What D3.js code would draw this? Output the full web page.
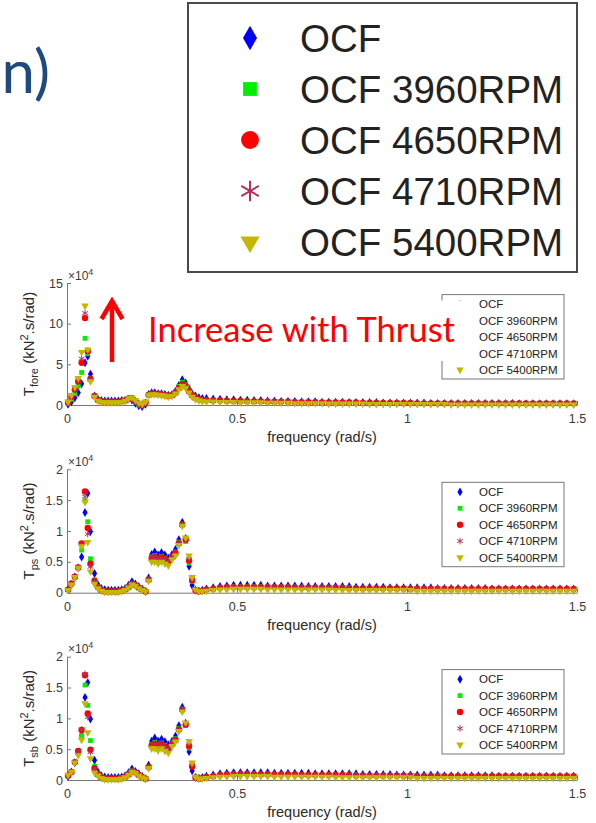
<!DOCTYPE html>
<html>
<head>
<meta charset="utf-8">
<script src="https://cdn.jsdelivr.net/npm/d3@7"></script>
<style>
  body { margin: 0; background: #fff; }
  svg { display: block; font-family: "Liberation Sans", Arial, sans-serif; }
</style>
</head>
<body>
<svg id="chart" width="596" height="823"></svg>
<script>
// series + ticks
var seriesNames = ["OCF", "OCF 3960RPM", "OCF 4650RPM", "OCF 4710RPM", "OCF 5400RPM"];
var xTicks = [0, 0.5, 1, 1.5];
var foreTicks = [0, 5, 10, 15];
var sideTicks = [0, 0.5, 1, 1.5, 2];

// frequency (rad/s)
var freq = [
  0.003, 0.013, 0.023, 0.033, 0.043, 0.053, 0.061, 0.069, 0.081, 0.091,
  0.101, 0.111, 0.121, 0.131, 0.141, 0.151, 0.161, 0.171, 0.181, 0.191,
  0.201, 0.211, 0.221, 0.231, 0.240, 0.249, 0.258, 0.268, 0.278, 0.288,
  0.298, 0.309, 0.319, 0.329, 0.339, 0.349, 0.359, 0.368, 0.378, 0.388, 0.398,
  0.41, 0.43, 0.45, 0.47, 0.49, 0.51, 0.53, 0.55, 0.57, 0.59, 0.61,
  0.63, 0.65, 0.67, 0.69, 0.71, 0.73, 0.75, 0.77, 0.79, 0.81, 0.83,
  0.85, 0.87, 0.89, 0.91, 0.93, 0.95, 0.97, 0.99, 1.01, 1.03, 1.05,
  1.07, 1.09, 1.11, 1.13, 1.15, 1.17, 1.19, 1.21, 1.23, 1.25, 1.27,
  1.29, 1.31, 1.33, 1.35, 1.37, 1.39, 1.41, 1.43, 1.45, 1.47, 1.49
];

// T_fore, x10^4
var foreOCF = [
  0.1, 0.4, 0.9, 1.5, 2.6, 5.2, 6.0, 3.8, 1.1, 0.7,
  0.55, 0.5, 0.5, 0.5, 0.5, 0.5, 0.55, 0.6, 0.75, 0.6,
  0.2, -0.1, -0.2, 0.1, 1.3, 1.5, 1.5, 1.4, 1.4, 1.3,
  1.2, 1.3, 1.7, 2.4, 3.1, 2.7, 2.0, 1.4, 1.1, 0.9, 0.8,
  0.8, 0.75, 0.7, 0.65, 0.65, 0.6, 0.6, 0.55, 0.55, 0.5, 0.5,
  0.45, 0.45, 0.45, 0.4, 0.4, 0.4, 0.35, 0.35, 0.35, 0.35, 0.3,
  0.3, 0.3, 0.3, 0.3, 0.25, 0.25, 0.25, 0.25, 0.25, 0.25, 0.25,
  0.2, 0.2, 0.2, 0.2, 0.2, 0.2, 0.2, 0.2, 0.2, 0.2, 0.2,
  0.2, 0.2, 0.15, 0.15, 0.15, 0.15, 0.15, 0.15, 0.15, 0.15, 0.15
];
var fore3960 = [
  0.2, 0.7, 1.4, 2.3, 4.0, 8.2, 6.3, 3.3, 1.1, 0.65,
  0.5, 0.45, 0.45, 0.45, 0.45, 0.45, 0.5, 0.6, 0.8, 0.75,
  0.35, 0.0, -0.1, 0.2, 1.3, 1.45, 1.45, 1.4, 1.35, 1.25,
  1.15, 1.25, 1.6, 2.3, 2.8, 2.5, 1.85, 1.3, 1.0, 0.8, 0.7,
  0.65, 0.6, 0.6, 0.55, 0.55, 0.5, 0.5, 0.5, 0.45, 0.45, 0.45,
  0.4, 0.4, 0.4, 0.35, 0.35, 0.35, 0.3, 0.3, 0.3, 0.3, 0.3,
  0.25, 0.25, 0.25, 0.25, 0.25, 0.25, 0.2, 0.2, 0.2, 0.2, 0.2,
  0.2, 0.2, 0.2, 0.2, 0.2, 0.15, 0.15, 0.15, 0.15, 0.15, 0.15,
  0.15, 0.15, 0.15, 0.15, 0.15, 0.15, 0.15, 0.15, 0.15, 0.15, 0.15
];
var fore4650 = [
  0.3, 1.0, 1.9, 2.9, 5.2, 10.7, 6.6, 3.2, 1.1, 0.6,
  0.45, 0.4, 0.4, 0.4, 0.4, 0.4, 0.45, 0.55, 0.8, 0.85,
  0.5, 0.15, 0.0, 0.3, 1.25, 1.4, 1.4, 1.35, 1.3, 1.2,
  1.1, 1.2, 1.5, 2.1, 2.6, 2.3, 1.7, 1.2, 0.9, 0.7, 0.6,
  0.6, 0.55, 0.55, 0.5, 0.5, 0.5, 0.45, 0.45, 0.45, 0.4, 0.4,
  0.4, 0.4, 0.35, 0.35, 0.35, 0.35, 0.3, 0.3, 0.3, 0.3, 0.3,
  0.3, 0.25, 0.25, 0.25, 0.25, 0.25, 0.25, 0.25, 0.25, 0.2, 0.2,
  0.2, 0.2, 0.2, 0.2, 0.2, 0.2, 0.2, 0.2, 0.2, 0.2, 0.2,
  0.2, 0.2, 0.2, 0.2, 0.2, 0.2, 0.2, 0.2, 0.2, 0.2, 0.2
];
var fore4710 = [
  0.3, 1.1, 2.0, 3.0, 5.7, 11.3, 6.7, 3.1, 1.05, 0.55,
  0.4, 0.35, 0.35, 0.35, 0.35, 0.35, 0.4, 0.5, 0.8, 0.85,
  0.55, 0.2, 0.05, 0.35, 1.2, 1.35, 1.35, 1.3, 1.25, 1.15,
  1.05, 1.15, 1.45, 2.0, 2.5, 2.2, 1.6, 1.1, 0.8, 0.65, 0.55,
  0.55, 0.5, 0.5, 0.5, 0.45, 0.45, 0.45, 0.4, 0.4, 0.4, 0.4,
  0.35, 0.35, 0.35, 0.35, 0.3, 0.3, 0.3, 0.3, 0.3, 0.3, 0.3,
  0.25, 0.25, 0.25, 0.25, 0.25, 0.25, 0.25, 0.25, 0.25, 0.25, 0.25,
  0.2, 0.2, 0.2, 0.2, 0.2, 0.2, 0.2, 0.2, 0.2, 0.2, 0.2,
  0.2, 0.2, 0.2, 0.2, 0.2, 0.2, 0.2, 0.2, 0.2, 0.2, 0.2
];
var fore5400 = [
  0.4, 1.2, 2.2, 3.3, 6.5, 12.2, 6.8, 2.9, 1.0, 0.5,
  0.35, 0.3, 0.3, 0.3, 0.3, 0.3, 0.35, 0.5, 0.8, 0.9,
  0.6, 0.25, 0.1, 0.4, 1.2, 1.3, 1.3, 1.25, 1.2, 1.1,
  1.0, 1.1, 1.4, 1.9, 2.3, 2.1, 1.5, 1.0, 0.7, 0.55, 0.45,
  0.4, 0.4, 0.35, 0.35, 0.35, 0.3, 0.3, 0.3, 0.3, 0.25, 0.25,
  0.25, 0.25, 0.2, 0.2, 0.2, 0.2, 0.2, 0.15, 0.15, 0.15, 0.15,
  0.15, 0.15, 0.1, 0.1, 0.1, 0.1, 0.1, 0.1, 0.1, 0.1, 0.1,
  0.1, 0.1, 0.1, 0.05, 0.05, 0.05, 0.05, 0.05, 0.05, 0.05, 0.05,
  0.05, 0.05, 0.05, 0.05, 0.05, 0.05, 0.05, 0.05, 0.05, 0.05, 0.05
];

// T_ps, x10^4
var psOCF = [
  0.05, 0.13, 0.25, 0.40, 0.58, 1.30, 1.61, 0.99, 0.31, 0.13,
  0.07, 0.05, 0.04, 0.04, 0.04, 0.04, 0.05, 0.07, 0.12, 0.18,
  0.14, 0.10, 0.06, 0.02, 0.24, 0.62, 0.66, 0.61, 0.65, 0.61,
  0.56, 0.62, 0.70, 0.86, 1.14, 0.88, 0.43, 0.12, 0.04, 0.03, 0.04,
  0.06, 0.08, 0.10, 0.11, 0.12, 0.12, 0.12, 0.12, 0.12, 0.11, 0.11,
  0.11, 0.11, 0.11, 0.11, 0.10, 0.10, 0.10, 0.10, 0.10, 0.10, 0.10,
  0.09, 0.09, 0.09, 0.09, 0.09, 0.08, 0.08, 0.08, 0.08, 0.08, 0.08,
  0.08, 0.07, 0.07, 0.07, 0.07, 0.07, 0.07, 0.07, 0.07, 0.06, 0.06,
  0.06, 0.06, 0.06, 0.06, 0.06, 0.06, 0.06, 0.06, 0.06, 0.06, 0.06
];
var ps3960 = [
  0.05, 0.14, 0.26, 0.41, 0.69, 1.49, 1.15, 0.55, 0.21, 0.10,
  0.05, 0.03, 0.02, 0.02, 0.02, 0.02, 0.03, 0.05, 0.10, 0.15,
  0.12, 0.08, 0.05, 0.02, 0.22, 0.58, 0.60, 0.56, 0.59, 0.56,
  0.52, 0.59, 0.66, 0.82, 1.11, 0.83, 0.48, 0.18, 0.04, 0.02, 0.03,
  0.05, 0.07, 0.08, 0.09, 0.10, 0.10, 0.10, 0.10, 0.10, 0.09, 0.09,
  0.09, 0.09, 0.09, 0.09, 0.08, 0.08, 0.08, 0.08, 0.08, 0.08, 0.08,
  0.07, 0.07, 0.07, 0.07, 0.07, 0.07, 0.06, 0.06, 0.06, 0.06, 0.06,
  0.06, 0.06, 0.06, 0.06, 0.05, 0.05, 0.05, 0.05, 0.05, 0.05, 0.05,
  0.05, 0.05, 0.05, 0.05, 0.05, 0.05, 0.05, 0.05, 0.05, 0.05, 0.05
];
var ps4650 = [
  0.05, 0.15, 0.26, 0.41, 0.80, 1.64, 1.05, 0.47, 0.19, 0.09,
  0.04, 0.02, 0.02, 0.02, 0.02, 0.02, 0.03, 0.05, 0.09, 0.14,
  0.12, 0.08, 0.05, 0.02, 0.21, 0.56, 0.58, 0.54, 0.57, 0.54,
  0.50, 0.58, 0.64, 0.80, 1.10, 0.86, 0.52, 0.20, 0.04, 0.02, 0.03,
  0.05, 0.06, 0.08, 0.09, 0.09, 0.09, 0.09, 0.09, 0.09, 0.09, 0.09,
  0.09, 0.09, 0.08, 0.08, 0.08, 0.08, 0.08, 0.08, 0.08, 0.08, 0.07,
  0.07, 0.07, 0.07, 0.07, 0.07, 0.07, 0.07, 0.07, 0.06, 0.06, 0.06,
  0.06, 0.06, 0.06, 0.06, 0.06, 0.06, 0.06, 0.06, 0.06, 0.06, 0.06,
  0.06, 0.06, 0.06, 0.06, 0.06, 0.06, 0.06, 0.06, 0.06, 0.06, 0.06
];
var ps4710 = [
  0.05, 0.15, 0.26, 0.41, 0.79, 1.56, 0.95, 0.42, 0.18, 0.09,
  0.04, 0.02, 0.02, 0.02, 0.02, 0.02, 0.03, 0.05, 0.09, 0.14,
  0.12, 0.08, 0.05, 0.02, 0.21, 0.55, 0.57, 0.53, 0.56, 0.53,
  0.49, 0.57, 0.63, 0.79, 1.10, 0.87, 0.55, 0.22, 0.04, 0.02, 0.03,
  0.05, 0.06, 0.08, 0.09, 0.09, 0.09, 0.09, 0.09, 0.09, 0.09, 0.09,
  0.09, 0.09, 0.08, 0.08, 0.08, 0.08, 0.08, 0.08, 0.08, 0.08, 0.08,
  0.07, 0.07, 0.07, 0.07, 0.07, 0.07, 0.07, 0.07, 0.07, 0.07, 0.07,
  0.07, 0.07, 0.06, 0.06, 0.06, 0.06, 0.06, 0.06, 0.06, 0.06, 0.06,
  0.06, 0.06, 0.06, 0.06, 0.06, 0.06, 0.06, 0.06, 0.06, 0.06, 0.06
];
var ps5400 = [
  0.04, 0.13, 0.25, 0.40, 0.75, 1.47, 0.82, 0.34, 0.14, 0.07,
  0.03, 0.01, 0.01, 0.01, 0.01, 0.01, 0.02, 0.04, 0.08, 0.13,
  0.11, 0.07, 0.04, 0.02, 0.19, 0.50, 0.50, 0.47, 0.50, 0.47,
  0.44, 0.54, 0.60, 0.77, 1.08, 0.89, 0.60, 0.25, 0.05, 0.02, 0.02,
  0.03, 0.04, 0.05, 0.05, 0.06, 0.06, 0.06, 0.06, 0.06, 0.05, 0.05,
  0.05, 0.05, 0.05, 0.05, 0.05, 0.05, 0.05, 0.05, 0.04, 0.04, 0.04,
  0.04, 0.04, 0.04, 0.04, 0.04, 0.04, 0.04, 0.04, 0.04, 0.03, 0.03,
  0.03, 0.03, 0.03, 0.03, 0.03, 0.03, 0.03, 0.03, 0.03, 0.03, 0.03,
  0.03, 0.03, 0.03, 0.03, 0.03, 0.03, 0.03, 0.03, 0.03, 0.03, 0.03
];

// T_sb, x10^4
var sbOCF = [
  0.06, 0.13, 0.28, 0.45, 0.72, 1.34, 1.58, 0.99, 0.32, 0.13,
  0.07, 0.05, 0.04, 0.04, 0.04, 0.04, 0.05, 0.07, 0.12, 0.18,
  0.14, 0.10, 0.06, 0.02, 0.24, 0.63, 0.68, 0.63, 0.66, 0.62,
  0.57, 0.63, 0.71, 0.88, 1.18, 0.92, 0.46, 0.15, 0.04, 0.03, 0.04,
  0.06, 0.08, 0.10, 0.11, 0.12, 0.12, 0.12, 0.12, 0.12, 0.12, 0.11,
  0.11, 0.11, 0.11, 0.11, 0.11, 0.10, 0.10, 0.10, 0.10, 0.10, 0.10,
  0.10, 0.09, 0.09, 0.09, 0.09, 0.09, 0.08, 0.08, 0.08, 0.08, 0.08,
  0.08, 0.08, 0.07, 0.07, 0.07, 0.07, 0.07, 0.07, 0.07, 0.07, 0.06,
  0.06, 0.06, 0.06, 0.06, 0.06, 0.06, 0.06, 0.06, 0.06, 0.06, 0.06
];
var sb3960 = [
  0.07, 0.13, 0.29, 0.44, 0.72, 1.54, 1.21, 0.64, 0.22, 0.10,
  0.05, 0.03, 0.02, 0.02, 0.02, 0.02, 0.03, 0.05, 0.10, 0.15,
  0.12, 0.08, 0.05, 0.02, 0.22, 0.58, 0.61, 0.57, 0.60, 0.56,
  0.52, 0.60, 0.67, 0.84, 1.15, 0.88, 0.52, 0.22, 0.04, 0.02, 0.03,
  0.05, 0.07, 0.08, 0.09, 0.10, 0.10, 0.10, 0.10, 0.10, 0.10, 0.09,
  0.09, 0.09, 0.09, 0.09, 0.09, 0.08, 0.08, 0.08, 0.08, 0.08, 0.08,
  0.08, 0.07, 0.07, 0.07, 0.07, 0.07, 0.07, 0.06, 0.06, 0.06, 0.06,
  0.06, 0.06, 0.06, 0.06, 0.06, 0.05, 0.05, 0.05, 0.05, 0.05, 0.05,
  0.05, 0.05, 0.05, 0.05, 0.05, 0.05, 0.05, 0.05, 0.05, 0.05, 0.05
];
var sb4650 = [
  0.07, 0.13, 0.29, 0.47, 0.81, 1.70, 1.08, 0.49, 0.19, 0.09,
  0.04, 0.02, 0.02, 0.02, 0.02, 0.02, 0.03, 0.05, 0.09, 0.14,
  0.12, 0.08, 0.05, 0.02, 0.21, 0.56, 0.59, 0.55, 0.58, 0.54,
  0.50, 0.58, 0.65, 0.82, 1.14, 0.90, 0.55, 0.22, 0.04, 0.02, 0.03,
  0.05, 0.06, 0.08, 0.09, 0.09, 0.10, 0.10, 0.09, 0.09, 0.09, 0.09,
  0.09, 0.09, 0.09, 0.08, 0.08, 0.08, 0.08, 0.08, 0.08, 0.08, 0.08,
  0.07, 0.07, 0.07, 0.07, 0.07, 0.07, 0.07, 0.07, 0.07, 0.06, 0.06,
  0.06, 0.06, 0.06, 0.06, 0.06, 0.06, 0.06, 0.06, 0.06, 0.06, 0.06,
  0.06, 0.06, 0.06, 0.06, 0.06, 0.06, 0.06, 0.06, 0.06, 0.06, 0.06
];
var sb4710 = [
  0.07, 0.13, 0.29, 0.46, 0.82, 1.72, 1.02, 0.45, 0.18, 0.09,
  0.04, 0.02, 0.02, 0.02, 0.02, 0.02, 0.03, 0.05, 0.09, 0.14,
  0.12, 0.08, 0.05, 0.02, 0.21, 0.55, 0.58, 0.54, 0.57, 0.53,
  0.49, 0.57, 0.64, 0.81, 1.14, 0.91, 0.58, 0.25, 0.04, 0.02, 0.03,
  0.05, 0.06, 0.08, 0.09, 0.09, 0.10, 0.10, 0.09, 0.09, 0.09, 0.09,
  0.09, 0.09, 0.09, 0.08, 0.08, 0.08, 0.08, 0.08, 0.08, 0.08, 0.08,
  0.08, 0.07, 0.07, 0.07, 0.07, 0.07, 0.07, 0.07, 0.07, 0.07, 0.07,
  0.07, 0.07, 0.06, 0.06, 0.06, 0.06, 0.06, 0.06, 0.06, 0.06, 0.06,
  0.06, 0.06, 0.06, 0.06, 0.06, 0.06, 0.06, 0.06, 0.06, 0.06, 0.06
];
var sb5400 = [
  0.08, 0.13, 0.28, 0.40, 0.65, 1.24, 0.77, 0.35, 0.12, 0.07,
  0.03, 0.01, 0.01, 0.01, 0.01, 0.01, 0.02, 0.04, 0.08, 0.13,
  0.11, 0.07, 0.04, 0.02, 0.19, 0.51, 0.51, 0.48, 0.51, 0.47,
  0.44, 0.55, 0.62, 0.79, 1.11, 0.93, 0.63, 0.28, 0.05, 0.02, 0.02,
  0.03, 0.04, 0.05, 0.05, 0.06, 0.06, 0.06, 0.06, 0.06, 0.06, 0.05,
  0.05, 0.05, 0.05, 0.05, 0.05, 0.05, 0.05, 0.05, 0.04, 0.04, 0.04,
  0.04, 0.04, 0.04, 0.04, 0.04, 0.04, 0.04, 0.04, 0.04, 0.03, 0.03,
  0.03, 0.03, 0.03, 0.03, 0.03, 0.03, 0.03, 0.03, 0.03, 0.03, 0.03,
  0.03, 0.03, 0.03, 0.03, 0.03, 0.03, 0.03, 0.03, 0.03, 0.03, 0.03
];

var markerStyles = [
  { type: d3.symbolDiamond, color: "#0000ff", size: 23, big: 170, stroke: false },
  { type: d3.symbolSquare, color: "#00ee00", size: 23, big: 190, stroke: false },
  { type: d3.symbolCircle, color: "#ff0000", size: 32, big: 250, stroke: false },
  { type: d3.symbolAsterisk || d3.symbolCross, color: "#b3305e", size: 30, big: 290, stroke: true },
  { type: d3.symbolTriangle, color: "#c2b800", size: 25, big: 160, stroke: false }
];

var panels = [
  { sub: "fore", ticks: foreTicks, yMax: 15, top: 283, bottom: 405,
    data: [foreOCF, fore3960, fore4650, fore4710, fore5400] },
  { sub: "ps", ticks: sideTicks, yMax: 2, top: 469.3, bottom: 592.7,
    data: [psOCF, ps3960, ps4650, ps4710, ps5400] },
  { sub: "sb", ticks: sideTicks, yMax: 2, top: 656.7, bottom: 780,
    data: [sbOCF, sb3960, sb4650, sb4710, sb5400] }
];

var svg = d3.select("#chart");
svg.append("rect").attr("width", 596).attr("height", 823).attr("fill", "#fff");

var x = d3.scaleLinear().domain([0, 1.5]).range([67, 577]);

function addMarker(sel, k, size, cx, cy, sw) {
  var st = markerStyles[k];
  var p = sel.append("path")
    .attr("d", d3.symbol().type(st.type).size(size)())
    .attr("transform", "translate(" + cx + "," + cy + ")" + (k === 4 ? " rotate(180)" : ""));
  if (st.stroke) {
    p.attr("fill", "none").attr("stroke", st.color).attr("stroke-width", sw || 1);
  } else {
    p.attr("fill", st.color);
  }
  return p;
}

panels.forEach(function (p, pi) {
  var y = d3.scaleLinear().domain([0, p.yMax]).range([p.bottom, p.top]);
  var g = svg.append("g");

  var xAxis = d3.axisBottom(x).tickValues(xTicks).tickFormat(function (d) { return String(d); })
    .tickSizeInner(-4).tickSizeOuter(0).tickPadding(9.5);
  var yAxis = d3.axisLeft(y).tickValues(p.ticks).tickFormat(function (d) { return String(d); })
    .tickSizeInner(-4).tickSizeOuter(0).tickPadding(4);

  var gx = g.append("g").attr("transform", "translate(0," + p.bottom + ")").call(xAxis);
  var gy = g.append("g").attr("transform", "translate(67,0)").call(yAxis);
  [gx, gy].forEach(function (a) {
    a.select(".domain").attr("stroke", "#777");
    a.selectAll(".tick line").attr("stroke", "#777");
    a.selectAll(".tick text").attr("fill", "#3a3a3a").style("font-size", "12.5px")
      .style("font-family", "'Liberation Sans', Arial, sans-serif");
  });

  // x10^4 exponent label
  var ex = g.append("text").attr("x", 68).attr("y", p.top - 3.5)
    .attr("fill", "#3a3a3a").style("font-size", "12px");
  ex.append("tspan").text("\u00d710");
  ex.append("tspan").attr("dy", -5).style("font-size", "9px").text("4");

  // axis labels
  g.append("text").attr("x", 322).attr("y", p.bottom + 37)
    .attr("text-anchor", "middle").attr("fill", "#2a2a2a").style("font-size", "14.5px")
    .text("frequency (rad/s)");

  var yl = g.append("text")
    .attr("transform", "translate(34," + ((p.top + p.bottom) / 2) + ") rotate(-90)")
    .attr("text-anchor", "middle").attr("fill", "#2a2a2a").style("font-size", "15px");
  yl.append("tspan").text("T");
  yl.append("tspan").attr("dy", 4).style("font-size", "11px").text(p.sub);
  yl.append("tspan").attr("dy", -4).text(" (kN");
  yl.append("tspan").attr("dy", -6).style("font-size", "11px").text("2");
  yl.append("tspan").attr("dy", 6).text(".s/rad)");

  // points
  p.data.forEach(function (vals, k) {
    var pts = freq.map(function (f, i) { return [f, vals[i]]; })
      .filter(function (d) { return d[1] !== undefined; });
    var st = markerStyles[k];
    var sel = g.append("g").selectAll("path").data(pts).enter().append("path")
      .attr("d", d3.symbol().type(st.type).size(st.size)())
      .attr("transform", function (d) {
        return "translate(" + x(d[0]) + "," + y(d[1]) + ")" + (k === 4 ? " rotate(180)" : "");
      });
    if (st.stroke) {
      sel.attr("fill", "none").attr("stroke", st.color).attr("stroke-width", 1);
    } else {
      sel.attr("fill", st.color);
    }
  });

  // small legend
  var boxTop = p.bottom - 110.4;
  var lg = g.append("g");
  lg.append("rect").attr("x", 442).attr("y", boxTop).attr("width", 122).attr("height", 84.4)
    .attr("fill", "#fff").attr("stroke", "#777").attr("stroke-width", 1);
  seriesNames.forEach(function (name, k) {
    var ry = boxTop + 9.6 + 16.4 * k;
    addMarker(lg, k, markerStyles[k].size, 460, ry, 1);
    lg.append("text").attr("x", 479).attr("y", ry).attr("dy", "0.36em")
      .attr("fill", "#222").style("font-size", "11.5px").text(name);
  });
});

// big legend at the top
var big = svg.append("g");
big.append("rect").attr("x", 188).attr("y", 3).attr("width", 389).attr("height", 269)
  .attr("fill", "#fff").attr("stroke", "#4a4a4a").attr("stroke-width", 2);
seriesNames.forEach(function (name, k) {
  var ry = 38 + 51 * k;
  addMarker(big, k, markerStyles[k].big, 250, ry, 2);
  big.append("text").attr("x", 300).attr("y", ry).attr("dy", "0.36em")
    .attr("fill", "#222").style("font-size", "38.5px").text(name);
});

// slide title fragment
svg.append("text").attr("x", 50).attr("y", 93).attr("text-anchor", "end")
  .attr("fill", "#1f4a7e").style("font-family", "Lato, 'Open Sans', sans-serif")
  .style("font-size", "60px").text("n)");

// annotation: white text box, red arrow and text
svg.append("rect").attr("x", 140).attr("y", 300.5).attr("width", 332).attr("height", 60.5)
  .attr("fill", "#fff");
svg.append("text").attr("x", 148).attr("y", 342)
  .attr("fill", "#ff0000").style("font-family", "Lato, 'Open Sans', sans-serif")
  .style("font-size", "34px").attr("textLength", 307).attr("lengthAdjust", "spacingAndGlyphs")
  .text("Increase with Thrust");

svg.append("path").attr("d", "M112,362 V301")
  .attr("stroke", "#ff0000").attr("stroke-width", 4.5).attr("fill", "none");
svg.append("path").attr("d", "M101.5,319 L112,301 L122.5,319")
  .attr("stroke", "#ff0000").attr("stroke-width", 4.5).attr("fill", "none")
  .attr("stroke-linejoin", "miter");
</script>
</body>
</html>
